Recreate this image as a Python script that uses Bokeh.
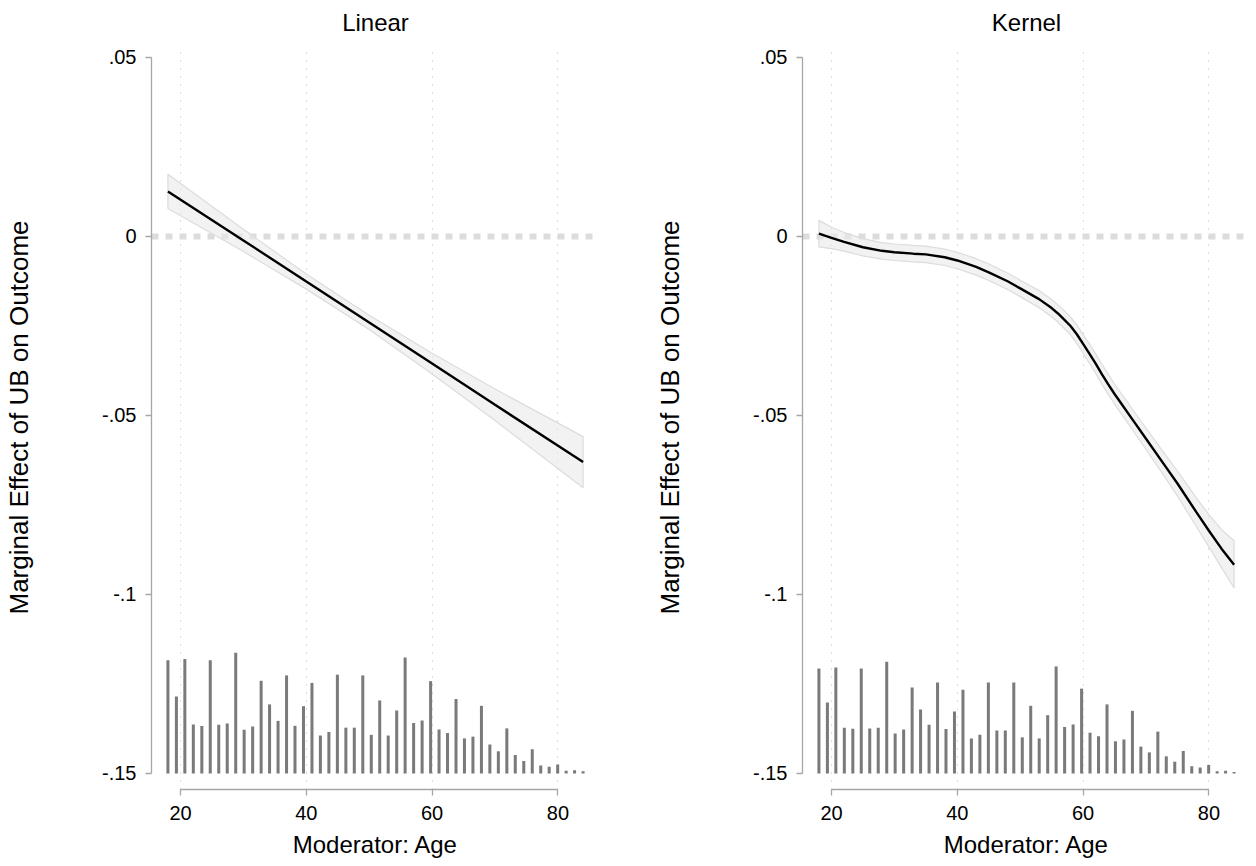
from bokeh.plotting import figure
from bokeh.models import FixedTicker, Span, Range1d
from bokeh.layouts import row
from bokeh.embed import file_html
from bokeh.resources import INLINE

# ---------------- data ----------------
titles = ["Linear", "Kernel"]
x_ticks = [20, 40, 60, 80]
y_ticks = [-0.15, -0.1, -0.05, 0, 0.05]
y_tick_labels = {-0.15: "-.15", -0.1: "-.1", -0.05: "-.05", 0: "0", 0.05: ".05"}
x_label = "Moderator: Age"
y_label = "Marginal Effect of UB on Outcome"

# Linear estimator
lin_age = [18, 30, 40, 50, 60, 70, 84]
lin_est = [0.0126, -0.0011, -0.0126, -0.0240, -0.0355, -0.0470, -0.0630]
lin_upper = [0.0174, 0.0020, -0.0105, -0.0220, -0.0326, -0.0426, -0.0559]
lin_lower = [0.0078, -0.0042, -0.0147, -0.0260, -0.0384, -0.0514, -0.0702]

# Kernel estimator
ker_age = [18, 20, 22, 25, 28, 30, 33, 35, 38, 40, 43, 45, 48, 50, 53, 55, 56, 57,
           58, 59, 60, 61, 62, 63, 64, 65, 68, 70, 73, 75, 78, 80, 82, 84]
ker_est = [0.0008, -0.0004, -0.0015, -0.0030, -0.0040, -0.0044, -0.0048, -0.0050,
           -0.0058, -0.0067, -0.0085, -0.0100, -0.0125, -0.0145, -0.0175, -0.0200,
           -0.0215, -0.0232, -0.0250, -0.0273, -0.0300, -0.0327, -0.0355, -0.0385,
           -0.0413, -0.0440, -0.0515, -0.0565, -0.0640, -0.0690, -0.0770, -0.0822,
           -0.0872, -0.0917]
ker_upper = [0.0045, 0.0026, 0.0011, -0.0006, -0.0017, -0.0021, -0.0025, -0.0027,
             -0.0035, -0.0044, -0.0062, -0.0077, -0.0102, -0.0122, -0.0151, -0.0176,
             -0.0191, -0.0207, -0.0225, -0.0247, -0.0274, -0.0300, -0.0328, -0.0357,
             -0.0385, -0.0412, -0.0486, -0.0535, -0.0608, -0.0655, -0.0730, -0.0777,
             -0.0819, -0.0850]
ker_lower = [-0.0029, -0.0034, -0.0041, -0.0054, -0.0063, -0.0067, -0.0071, -0.0073,
             -0.0081, -0.0090, -0.0108, -0.0123, -0.0148, -0.0168, -0.0199, -0.0224,
             -0.0239, -0.0257, -0.0275, -0.0299, -0.0326, -0.0354, -0.0382, -0.0413,
             -0.0441, -0.0468, -0.0544, -0.0595, -0.0672, -0.0725, -0.0810, -0.0867,
             -0.0925, -0.0982]

# Histogram of the moderator (bin centres, bar heights in y units above -.15)
hist_age = [18.00, 19.35, 20.69, 22.04, 23.39, 24.73, 26.08, 27.43, 28.78, 30.12,
            31.47, 32.82, 34.16, 35.51, 36.86, 38.20, 39.55, 40.90, 42.24, 43.59,
            44.94, 46.29, 47.63, 48.98, 50.33, 51.67, 53.02, 54.37, 55.71, 57.06,
            58.41, 59.76, 61.10, 62.45, 63.80, 65.14, 66.49, 67.84, 69.18, 70.53,
            71.88, 73.22, 74.57, 75.92, 77.27, 78.61, 79.96, 81.31, 82.65, 84.00]
hist_lin = [.0316, .0215, .0320, .0137, .0133, .0316, .0136, .0140, .0337, .0122,
            .0131, .0259, .0193, .0147, .0274, .0133, .0188, .0253, .0106, .0116,
            .0276, .0128, .0128, .0274, .0108, .0204, .0106, .0176, .0324, .0141,
            .0148, .0258, .0123, .0113, .0208, .0098, .0103, .0189, .0081, .0062,
            .0126, .0052, .0035, .0068, .0022, .0019, .0025, .0008, .0009, .0006]
hist_ker = [.0293, .0198, .0296, .0128, .0125, .0293, .0126, .0128, .0312, .0112,
            .0123, .0240, .0179, .0136, .0254, .0124, .0173, .0234, .0098, .0108,
            .0254, .0120, .0120, .0254, .0101, .0189, .0098, .0163, .0299, .0130,
            .0137, .0237, .0114, .0104, .0193, .0090, .0095, .0175, .0075, .0059,
            .0117, .0048, .0033, .0063, .0020, .0017, .0024, .0006, .0008, .0004]
hist_base = -0.15

FONT = "Liberation Sans"


def panel(title, age, est, lower, upper, hist, border_left, border_right):
    p = figure(frame_width=448, frame_height=744,
               x_range=Range1d(15.39, 86.61), y_range=Range1d(-0.15447, 0.05335),
               output_backend="svg", toolbar_location=None,
               min_border_left=border_left, min_border_right=border_right,
               min_border_top=45, min_border_bottom=69,
               title=title)
    p.outline_line_color = None
    p.background_fill_color = "white"
    p.border_fill_color = "white"

    p.title.align = "center"
    p.title.text_font = FONT
    p.title.text_font_size = "24px"
    p.title.text_font_style = "normal"
    p.title.text_color = "black"
    p.title.vertical_align = "top"
    p.title.standoff = 16

    # axes
    for ax in (p.xaxis[0], p.yaxis[0]):
        ax.axis_line_color = "#a6a6a6"
        ax.axis_line_width = 1.3
        ax.major_tick_line_color = "#a6a6a6"
        ax.major_tick_line_width = 1.3
        ax.major_tick_in = 0
        ax.major_tick_out = 6
        ax.minor_tick_line_color = None
        ax.major_label_text_font = FONT
        ax.major_label_text_font_size = "20px"
        ax.major_label_text_color = "black"
        ax.axis_label_text_font = FONT
        ax.axis_label_text_font_style = "normal"
        ax.axis_label_text_color = "black"

    xa = p.xaxis[0]
    xa.ticker = FixedTicker(ticks=x_ticks)
    xa.bounds = (x_ticks[0], x_ticks[-1])
    xa.axis_label = x_label
    xa.axis_label_text_font_size = "24px"
    xa.major_label_standoff = 10
    xa.axis_label_standoff = 8

    ya = p.yaxis[0]
    ya.ticker = FixedTicker(ticks=y_ticks)
    ya.bounds = (y_ticks[0], y_ticks[-1])
    ya.major_label_overrides = y_tick_labels
    ya.major_label_orientation = "horizontal"
    ya.major_label_standoff = 9
    ya.axis_label = y_label
    ya.axis_label_text_font_size = "26px"
    ya.axis_label_standoff = 65

    # grid
    p.ygrid.visible = False
    p.xgrid.ticker = FixedTicker(ticks=x_ticks)
    p.xgrid.grid_line_color = "#b8b8b8"
    p.xgrid.grid_line_dash = "1 7"
    p.xgrid.grid_line_width = 1

    # zero reference line
    p.add_layout(Span(location=0, dimension="width", line_color="#dcdcdc",
                      line_width=6, line_dash="7 7", level="underlay"))

    # histogram of moderator
    tops = [hist_base + h for h in hist]
    p.vbar(x=hist_age, bottom=hist_base, top=tops, width=0.48,
           fill_color="#7a7a7a", line_color=None)

    # confidence band
    p.patch(age + age[::-1], upper + lower[::-1], fill_color="#eaeaea",
            fill_alpha=0.6, line_color="#dcdcdc", line_width=1.2)
    # estimate
    p.line(age, est, line_color="black", line_width=2.4)
    return p


p1 = panel(titles[0], lin_age, lin_est, lin_lower, lin_upper, hist_lin, 151, 9)
p2 = panel(titles[1], ker_age, ker_est, ker_lower, ker_upper, hist_ker, 194, 0)

layout = row(p1, p2, spacing=0)
open("out.html", "w").write(file_html(layout, INLINE))
